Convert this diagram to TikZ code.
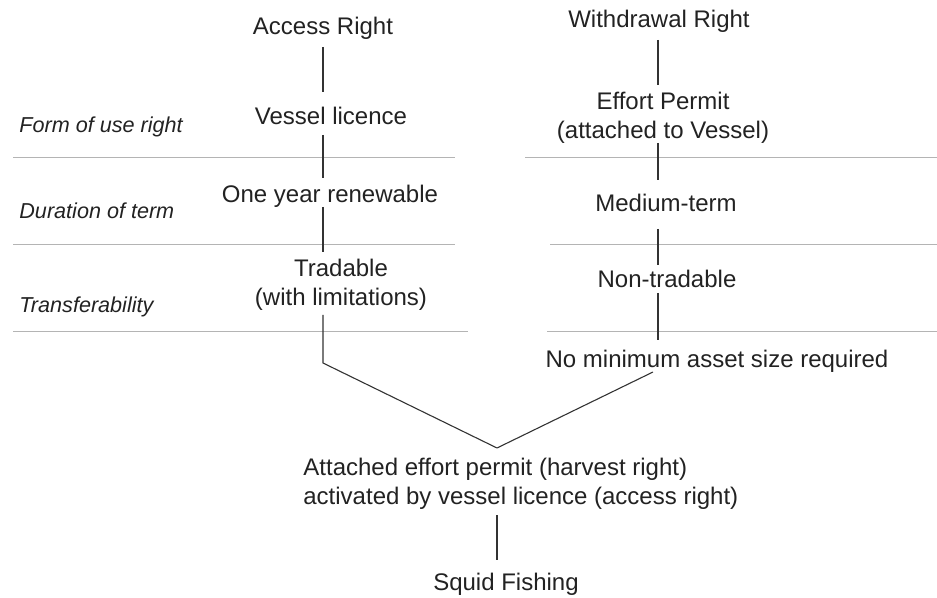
\documentclass[tikz,border=0pt]{standalone}
\usepackage{fontspec}
\setmainfont{Liberation Sans}
\definecolor{textc}{HTML}{222222}
\definecolor{linec}{HTML}{333333}
\definecolor{sepc}{HTML}{B4B4B4}
\begin{document}
\begin{tikzpicture}[x=0.5pt,y=-0.5pt,
  txt/.style={font=\fontsize{12}{14.5}\selectfont, text=textc, inner sep=0pt, anchor=base},
  lbl/.style={font=\fontsize{10.8}{13}\selectfont\itshape, text=textc, inner sep=0pt, anchor=base west},
  conn/.style={draw=linec, line width=0.55pt},
  sep/.style={draw=sepc, line width=0.5pt}]
\useasboundingbox (0,0) rectangle (937,598);
% columns
\coordinate (colL) at (323,0);
\coordinate (colR) at (658,0);
\coordinate (colB) at (497,0);
\coordinate (bendL) at (323,363);
\coordinate (nmfoot) at (653,372);
\coordinate (apex) at (497,448);
% separators
\draw[sep] (13,158) -- (455,158);
\draw[sep] (525,158) -- (937,158);
\draw[sep] (13,245) -- (455,245);
\draw[sep] (550,245) -- (937,245);
\draw[sep] (13,332) -- (468,332);
\draw[sep] (547,332) -- (937,332);
% row labels
\node[lbl] (l1) at (19,133) {Form of use right};
\node[lbl] (l2) at (19,219) {Duration of term};
\node[lbl] (l3) at (19,313) {Transferability};
% left column
\node[txt] (ar) at (323,35) {Access Right};
\node[txt] (vl) at (331,125) {Vessel licence};
\node[txt] (oy) at (330,203) {One year renewable};
\node[txt] (tr) at (341,277) {\begin{tabular}[t]{@{}c@{}}Tradable\\(with limitations)\end{tabular}};
% right column
\node[txt] (wr) at (659,28) {Withdrawal Right};
\node[txt] (ep) at (663,110) {\begin{tabular}[t]{@{}c@{}}Effort Permit\\(attached to Vessel)\end{tabular}};
\node[txt] (mt) at (666,212) {Medium-term};
\node[txt] (nt) at (667,288) {Non-tradable};
\node[txt] (nm) at (717,368) {No minimum asset size required};
% bottom
\node[txt, anchor=base west] (at) at (303,475) {\begin{tabular}[t]{@{}l@{}}Attached effort permit (harvest right)\\activated by vessel licence (access right)\end{tabular}};
\node[txt] (sq) at (506,590) {Squid Fishing};
% connectors left
\draw[conn, shorten <=6pt, shorten >=16.5pt] (ar.base -| colL) -- (vl.base -| colL);
\draw[conn, shorten <=5pt, shorten >=12.5pt] (vl.base -| colL) -- (oy.base -| colL);
\draw[conn, shorten <=2pt, shorten >=12.5pt] (oy.base -| colL) -- (tr.base -| colL);
\draw[conn, shorten <=19pt] (tr.base -| colL) -- (bendL) -- (apex);
\draw[conn] (nmfoot) -- (apex);
% connectors right
\draw[conn, shorten <=6pt, shorten >=12.5pt] (wr.base -| colR) -- (ep.base -| colR);
\draw[conn, shorten <=16.5pt, shorten >=16pt] (ep.base -| colR) -- (mt.base -| colR);
\draw[conn, shorten <=8.5pt, shorten >=11.5pt] (mt.base -| colR) -- (nt.base -| colR);
\draw[conn, shorten <=2.5pt, shorten >=14pt] (nt.base -| colR) -- (nm.base -| colR);
% bottom connector
\draw[conn, shorten <=20pt, shorten >=15pt] (at.base -| colB) -- (sq.base -| colB);
\end{tikzpicture}
\end{document}
